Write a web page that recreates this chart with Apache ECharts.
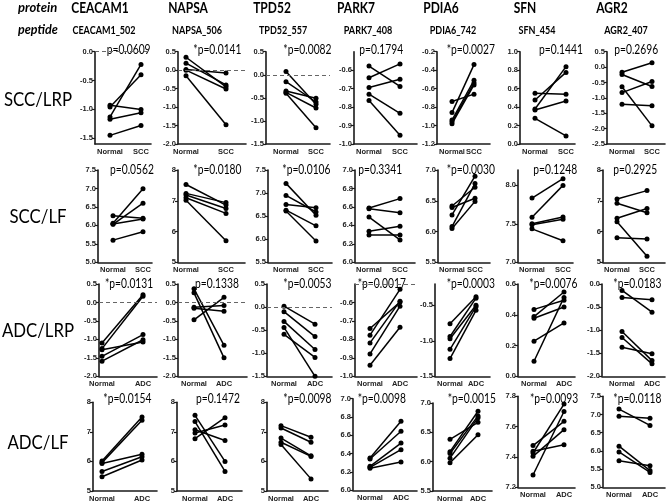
<!DOCTYPE html>
<html>
<head>
<meta charset="utf-8">
<script src="https://cdn.jsdelivr.net/npm/echarts@6/dist/echarts.min.js"></script>
<style>
html,body{margin:0;padding:0;background:#fff;}
#chart{width:669px;height:503px;}
</style>
</head>
<body>
<div id="chart"></div>
<script>
// ---------------- DATA ----------------
const proteins = ['CEACAM1','NAPSA','TPD52','PARK7','PDIA6','SFN','AGR2'];
const peptides = ['CEACAM1_502','NAPSA_506','TPD52_557','PARK7_408','PDIA6_742','SFN_454','AGR2_407'];
const comparisons = ['SCC/LRP','SCC/LF','ADC/LRP','ADC/LF'];
const tumorNames = ['SCC','SCC','ADC','ADC'];
const groupName = 'Normal';

const sccLrpP = ['p=0.0609','*p=0.0141','*p=0.0082','p=0.1794','*p=0.0027','p=0.1441','p=0.2696'];
const sccLfP  = ['p=0.0562','*p=0.0180','*p=0.0106','p=0.3341','*p=0.0030','p=0.1248','p=0.2925'];
const adcLrpP = ['*p=0.0131','p=0.1338','*p=0.0053','*p=0.0017','*p=0.0003','*p=0.0076','*p=0.0183'];
const adcLfP  = ['*p=0.0154','p=0.1472','*p=0.0098','*p=0.0098','*p=0.0015','*p=0.0093','*p=0.0118'];

// paired values: normal[i][j] -> tumor[i][j]
const sccLrpNormal = [
  [-0.93,-0.96,-1.13,-1.17,-1.45],
  [0.35,0.19,0.02,0.00,-0.15],
  [0.07,-0.15,-0.35,-0.38,-0.40],
  [-0.578,-0.641,-0.694,-0.73,-0.764],
  [-0.74,-0.86,-0.94,-0.96,-0.98],
  [0.549,0.477,0.379,0.368,0.278],
  [-0.17,-0.24,-0.64,-0.83,-1.21]
];
const sccLrpTumor = [
  [-1.00,-0.40,-0.22,-1.06,-1.28],
  [-0.45,-0.40,-0.08,-0.51,-1.48],
  [-0.64,-0.59,-0.51,-0.72,-1.15],
  [-0.688,-0.566,-0.649,-0.834,-0.953],
  [-0.66,-0.34,-0.51,-0.54,-0.56],
  [0.538,0.776,0.838,0.466,0.087],
  [0.14,-0.63,-1.91,-0.47,-1.26]
];
const sccLfNormal = [
  [6.26,6.06,6.03,6.04,5.60],
  [7.53,7.24,7.19,7.10,7.02],
  [7.21,6.95,6.75,6.63,6.61],
  [6.588,6.58,6.49,6.336,6.296],
  [6.415,6.39,6.27,6.08,6.05],
  [7.835,7.587,7.50,7.487,7.435],
  [7.06,6.92,6.43,6.32,5.80]
];
const sccLfTumor = [
  [6.19,6.99,6.60,6.17,5.83],
  [6.86,6.94,6.75,6.59,5.70],
  [6.52,6.59,6.68,6.29,5.96],
  [6.69,6.538,6.242,6.39,6.296],
  [6.72,6.54,6.90,6.78,6.49],
  [8.087,8.0,7.59,7.56,7.28],
  [7.33,6.61,6.75,5.20,5.76]
];
const adcLrpNormal = [
  [-1.10,-1.25,-1.28,-1.46,-1.59],
  [0.37,0.26,-0.13,-0.16,-0.47],
  [0.02,-0.10,-0.31,-0.44,-0.59],
  [-0.741,-0.777,-0.819,-0.879,-0.94],
  [-0.76,-0.94,-0.97,-1.12,-1.25],
  [0.435,0.388,0.377,0.228,0.098],
  [-0.14,-0.29,-1.03,-1.16,-1.37]
];
const adcLrpTumor = [
  [0.21,0.17,-1.07,-0.87,-1.01],
  [-1.16,-1.50,-0.08,-0.24,0.14],
  [-0.37,-0.64,-0.92,-1.50,-1.09],
  [-0.598,-0.529,-0.593,-0.62,-0.734],
  [-0.38,-0.40,-0.50,-0.52,-0.57],
  [0.494,0.548,0.45,0.347,0.513],
  [-0.61,-0.34,-1.66,-1.73,-1.51]
];
const adcLfNormal = [
  [6.015,5.96,5.93,5.66,5.48],
  [7.56,7.35,7.07,6.96,6.77],
  [7.21,7.13,6.79,6.65,6.57],
  [6.353,6.342,6.262,6.251,6.24],
  [6.38,6.17,6.14,6.06,5.98],
  [7.475,7.437,7.426,7.404,7.281],
  [7.15,6.95,6.13,5.97,5.73]
];
const adcLfTumor = [
  [7.50,7.39,6.24,6.16,6.05],
  [6.00,5.66,6.71,7.23,7.48],
  [6.82,6.65,6.19,6.17,5.41],
  [6.753,6.644,6.516,6.444,6.309],
  [6.67,6.86,6.78,6.75,6.46],
  [7.635,7.48,7.749,7.58,7.70],
  [6.70,6.90,5.46,5.41,5.59]
];

// axis tick labels and ranges
const sccLrpTicks = [[0,-0.5,-1,-1.5],[0.5,0,-0.5,-1,-1.5,-2],[0.5,0,-0.5,-1,-1.5],[-0.6,-0.7,-0.8,-0.9,-1],[-0.2,-0.4,-0.6,-0.8,-1,-1.2],[1,0.8,0.6,0.4,0.2,0],[0.5,0,-0.5,-1,-1.5,-2,-2.5]];
const sccLrpRange = [[-1.6,0],[-2,0.5],[-1.5,0.5],[-1,-0.5],[-1.2,-0.2],[0,1],[-2.5,0.5]];
const sccLrpDec = [1,1,1,1,1,1,1];
const sccLrpRef = [0,0,0,null,null,null,null];

const sccLfTicks = [[7.5,7,6.5,6,5.5,5],[8,7,6,5],[7.5,7,6.5,6,5.5],[7,6.8,6.6,6.4,6.2,6],[7,6.5,6,5.5],[8,7.5,7],[8,7,6,5]];
const sccLfRange = [[5,7.5],[5,8],[5.5,7.5],[6,7],[5.5,7],[7,8.2],[5,8]];
const sccLfDec = [1,0,1,1,1,1,0];
const sccLfRef = [null,null,null,null,null,null,null];

const adcLrpTicks = [[0.5,0,-0.5,-1,-1.5,-2],[0.5,0,-0.5,-1,-1.5,-2],[0.5,0,-0.5,-1,-1.5],[-0.6,-0.7,-0.8,-0.9,-1],[-0.5,-1,-1.5],[0.6,0.4,0.2,0],[0,-0.5,-1,-1.5,-2]];
const adcLrpRange = [[-2,0.5],[-2,0.5],[-1.5,0.5],[-1,-0.5],[-1.5,-0.2],[0,0.6],[-2,0]];
const adcLrpDec = [1,1,1,1,1,1,1];
const adcLrpRef = [0,0,0,-0.5,null,null,null];

const adcLfTicks = [[8,7,6,5],[8,7,6,5],[8,7,6,5],[7,6.8,6.6,6.4,6.2,6],[7,6.5,6,5.5],[7.8,7.6,7.4,7.2],[7.5,7,6.5,6,5.5,5]];
const adcLfRange = [[5,8],[5,8],[5,8],[6,7],[5.5,7],[7.2,7.8],[5,7.5]];
const adcLfDec = [0,0,0,1,1,1,1];
const adcLfRef = [null,null,null,null,null,null,null];

// ---------------- LAYOUT (pixels) ----------------
// per panel: [yAxisX, normalX, tumorX, xAxisEnd]
const layoutX = [
  [[95,110,141,151],[178,186,226,246],[266,286,316,330],[354,369,400,417],[437,452,474,490],[520,535,566,575],[607,622,652,665]],
  [[98,113,143,152],[178,186,226,245],[268,286,316,332],[355,369,400,415],[438,452,475,490],[518,532,563,573],[603,617,647,665]],
  [[99,102,143,157],[178,194,224,247],[267,284,315,332],[355,370,400,417],[435,450,476,490],[518,534,564,575],[602,622,652,665]],
  [[93,102,142,157],[177,195,225,242],[267,281,311,328],[353,370,401,417],[433,450,478,492],[518,533,564,575],[603,619,650,665]]
];
// per panel: [top, bottom]
const layoutY = [
  Array(7).fill([51.7,144]),
  Array(7).fill([170,262.3]),
  Array(7).fill([284,376.3]),
  [[402.3,493],[402.3,493],[402.3,493],[398.7,490.3],[403,493],[396.3,487.3],[396.3,487.3]]
];
const pTextX = [
  [106.7,193.3,283.3,359.3,446.7,539,614.3],
  [110,193.3,282.3,358.3,446.7,533.3,613.3],
  [105,195,283.3,357.7,446.7,529.3,613.3],
  [103.3,196,283.3,357.7,447.7,530,613.3]
];
const pTextY = [50,170,283.7,398.7];
const rowLabelY = [100,217,331,443];
const proteinX = [100,188,272,356,441,525,612];
const peptideX = [104,197,283,368,453,537,626];

const rows = [
  {normal: sccLrpNormal, tumor: sccLrpTumor, ticks: sccLrpTicks, range: sccLrpRange, dec: sccLrpDec, ref: sccLrpRef, p: sccLrpP},
  {normal: sccLfNormal, tumor: sccLfTumor, ticks: sccLfTicks, range: sccLfRange, dec: sccLfDec, ref: sccLfRef, p: sccLfP},
  {normal: adcLrpNormal, tumor: adcLrpTumor, ticks: adcLrpTicks, range: adcLrpRange, dec: adcLrpDec, ref: adcLrpRef, p: adcLrpP},
  {normal: adcLfNormal, tumor: adcLfTumor, ticks: adcLfTicks, range: adcLfRange, dec: adcLfDec, ref: adcLfRef, p: adcLfP}
];

// ---------------- BUILD ----------------
const SANS = 'Lato, sans-serif';
const ARIAL = '"Liberation Sans", Arial, sans-serif';
const axisColor = '#1a1a1a';
const grids = [], xAxes = [], yAxes = [], series = [], graphics = [];

function txt(text, x, y, size, weight, style, align, sx) {
  return {type: 'text', x: x, y: y, scaleX: sx, scaleY: 1, silent: true,
    style: {text: text, fontSize: size, fontWeight: weight, fontStyle: style, fontFamily: SANS,
            fill: '#000', align: align, verticalAlign: 'middle',
            textAlign: align, textVerticalAlign: 'middle'}};
}

rows.forEach((row, r) => {
  for (let c = 0; c < 7; c++) {
    const k = r * 7 + c;
    const [ax, nx, tx, ex] = layoutX[r][c];
    const [top, bottom] = layoutY[r][c];
    const s = tx - nx;
    grids.push({left: ax, top: top, width: ex - ax, height: bottom - top, containLabel: false});
    const tumorName = tumorNames[r];
    xAxes.push({
      gridIndex: k, type: 'value',
      min: -(nx - ax) / s, max: (ex - nx) / s,
      axisLine: {show: true, onZero: false, lineStyle: {color: axisColor, width: 1.6}},
      axisTick: {show: false},
      splitLine: {show: false},
      axisLabel: {customValues: [0, 1], formatter: v => Math.round(v) === 0 ? groupName : tumorName,
        fontSize: 7.5, fontWeight: 'bold', color: '#222', fontFamily: ARIAL, margin: 4}
    });
    const dec = row.dec[c];
    yAxes.push({
      gridIndex: k, type: 'value',
      min: row.range[c][0], max: row.range[c][1],
      axisLine: {show: true, onZero: false, lineStyle: {color: axisColor, width: 1.6}},
      axisTick: {show: true, customValues: row.ticks[c], length: 3, lineStyle: {color: axisColor, width: 1.2}},
      splitLine: {show: false},
      axisLabel: {customValues: row.ticks[c], formatter: v => Number(v).toFixed(dec),
        fontSize: 7.5, fontWeight: 'bold', color: '#222', fontFamily: ARIAL, margin: 2}
    });
    const nArr = row.normal[c], tArr = row.tumor[c];
    for (let j = 0; j < nArr.length; j++) {
      const ser = {
        type: 'line', xAxisIndex: k, yAxisIndex: k,
        data: [[0, nArr[j]], [1, tArr[j]]],
        symbol: 'circle', symbolSize: 5, showSymbol: true,
        itemStyle: {color: '#000'}, lineStyle: {color: '#000', width: 1.5},
        animation: false, silent: true, z: 3
      };
      if (j === 0 && row.ref[c] !== null) {
        ser.markLine = {symbol: 'none', silent: true, animation: false, label: {show: false},
          lineStyle: {color: '#666', type: [4, 3], width: 1},
          data: [{yAxis: row.ref[c]}]};
      }
      series.push(ser);
    }
    graphics.push(txt(row.p[c], pTextX[r][c], pTextY[r], 12.5, 'normal', 'normal', 'left', 0.82));
  }
  graphics.push(txt(comparisons[r], 38, rowLabelY[r], 20, 'normal', 'normal', 'center', 0.84));
});

graphics.push(txt('protein', 18, 8, 13, 'bold', 'italic', 'left', 1));
graphics.push(txt('peptide', 18, 30, 12.5, 'bold', 'italic', 'left', 1));
proteins.forEach((p, i) => graphics.push(txt(p, proteinX[i], 8, 15, 'bold', 'normal', 'center', 0.8)));
peptides.forEach((p, i) => graphics.push(txt(p, peptideX[i], 30, 11, 'bold', 'normal', 'center', 0.82)));

const chart = echarts.init(document.getElementById('chart'), null, {renderer: 'canvas'});
chart.setOption({
  backgroundColor: '#fff',
  animation: false,
  grid: grids, xAxis: xAxes, yAxis: yAxes, series: series,
  graphic: graphics
});
</script>
</body>
</html>
